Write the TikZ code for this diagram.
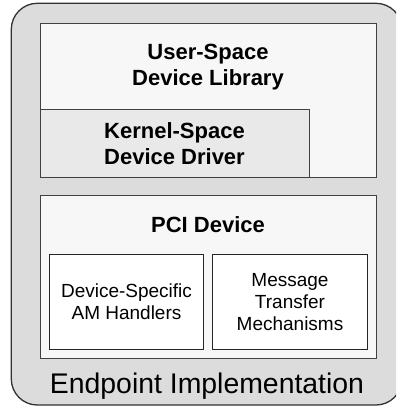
\documentclass[tikz,border=0pt]{standalone}
\usepackage{fontspec}
\setmainfont{Liberation Sans}
\begin{document}
\begin{tikzpicture}[x=1pt,y=-1pt,
  layer/.style={draw=black!75, line width=1.2pt, rectangle, inner sep=0pt, anchor=north west},
  unit/.style={draw=black!85, line width=1pt, fill=white, rectangle, inner sep=0pt, anchor=north west},
  boldtxt/.style={font=\bfseries\fontsize{22}{26.5}\selectfont, align=center, inner sep=0pt},
  plaintxt/.style={font=\fontsize{19}{22.3}\selectfont, align=center, inner sep=0pt}]
\useasboundingbox (0,0) rectangle (396,406);
\clip (0,0) rectangle (396,406);
% enclosing endpoint shell
\draw[fill={rgb,255:red,220;green,220;blue,220}, draw=black!80, line width=1.3pt, rounded corners=26pt]
  (11.3,3.3) rectangle (402,405);
% software layers
\node[layer, fill={rgb,255:red,247;green,247;blue,247}, minimum width=336pt, minimum height=154pt] (user) at (40,23) {};
\node[layer, fill={rgb,255:red,233;green,233;blue,233}, minimum width=269pt, minimum height=68pt] (kernel) at (40,109) {};
\node[boldtxt] (usertxt) at (208,67.3) {User-Space\\Device Library};
\node[boldtxt] (kerneltxt) at (174.5,143.5) {Kernel-Space\\Device Driver};
% hardware
\node[layer, fill={rgb,255:red,247;green,247;blue,247}, minimum width=336pt, minimum height=163pt] (pci) at (40,195) {};
\node[boldtxt, anchor=base] (pcitxt) at (208,232) {PCI Device};
\node[unit, minimum width=154pt, minimum height=95pt] (handlers) at (49,254) {};
\node[unit, minimum width=155pt, minimum height=95pt] (transfer) at (212,254) {};
\node[plaintxt] at (handlers.center) {Device-Specific\\AM Handlers};
\node[plaintxt] at (transfer.center) {Message\\Transfer\\Mechanisms};
\node[font=\fontsize{28.4}{34}\selectfont, inner sep=0pt, anchor=base] (caption) at (207,393) {Endpoint Implementation};
\end{tikzpicture}
\end{document}
